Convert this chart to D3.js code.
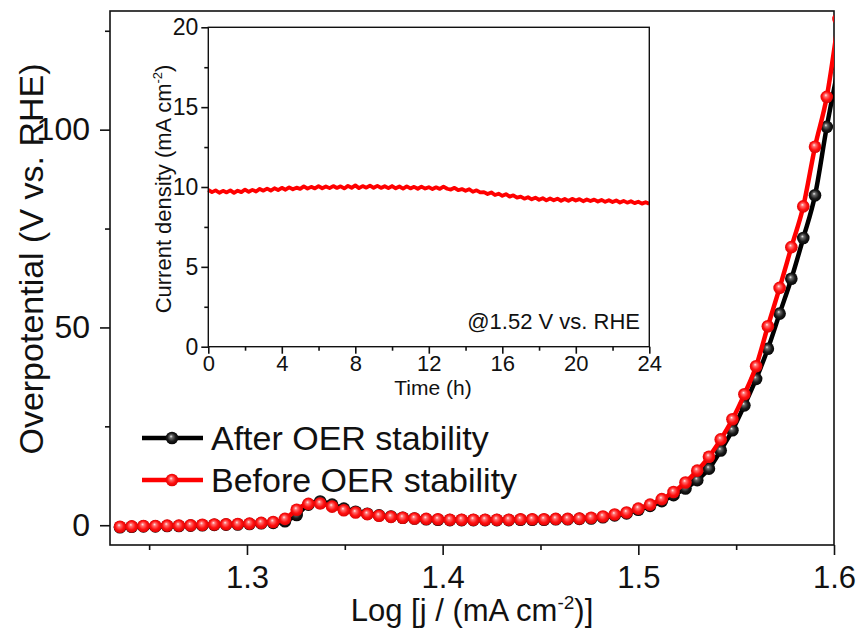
<!DOCTYPE html>
<html>
<head>
<meta charset="utf-8">
<script src="https://cdn.jsdelivr.net/npm/d3@7/dist/d3.min.js"></script>
<style>
    body { margin: 0; background: #fff; }
    svg text { font-family: "Liberation Sans", Arial, sans-serif; fill: #111; }
</style>
</head>
<body>
<svg id="chart" width="861" height="632"></svg>
<script>
// x values shared by both polarisation curves, log10 of current density
const logJ = [1.2351, 1.2411, 1.2471, 1.2532, 1.2592, 1.2652, 1.2712, 1.2772, 1.2833, 1.2893,
    1.2953, 1.3013, 1.3073, 1.3134, 1.3194, 1.3254, 1.3314, 1.3374, 1.3435, 1.3495,
    1.3555, 1.3615, 1.3675, 1.3736, 1.3796, 1.3856, 1.3916, 1.3976, 1.4037, 1.4097,
    1.4157, 1.4217, 1.4277, 1.4338, 1.4398, 1.4458, 1.4518, 1.4578, 1.4639, 1.4699,
    1.4759, 1.4819, 1.4879, 1.4940, 1.5000, 1.5060, 1.5120, 1.5180, 1.5241, 1.5301,
    1.5361, 1.5421, 1.5481, 1.5542, 1.5602, 1.5662, 1.5722, 1.5782, 1.5843, 1.5903,
    1.5963, 1.6023];

const afterOER = [-0.5, -0.4, -0.3, -0.3, -0.2, -0.2, -0.1, 0.0, 0.1, 0.15,
    0.2, 0.3, 0.5, 0.6, 1.0, 2.6, 5.2, 6.0, 5.2, 4.2,
    3.4, 2.9, 2.5, 2.2, 1.9, 1.7, 1.5, 1.4, 1.3, 1.3,
    1.3, 1.3, 1.3, 1.3, 1.4, 1.4, 1.4, 1.5, 1.5, 1.6,
    1.7, 2.0, 2.5, 3.0, 3.9, 4.9, 6.1, 7.6, 9.3, 11.4,
    14.3, 18.9, 24.0, 30.3, 37.0, 44.6, 53.5, 62.3, 72.6, 83.4,
    100.7, 116];

const beforeOER = [-0.4, -0.3, -0.2, -0.2, -0.1, -0.1, 0.0, 0.1, 0.2, 0.25,
    0.3, 0.4, 0.6, 0.8, 1.6, 3.9, 5.4, 5.5, 4.7, 3.8,
    3.2, 2.8, 2.4, 2.1, 1.9, 1.7, 1.6, 1.5, 1.4, 1.4,
    1.4, 1.4, 1.4, 1.4, 1.5, 1.5, 1.5, 1.6, 1.6, 1.7,
    1.9, 2.2, 2.7, 3.2, 4.2, 5.2, 6.6, 8.4, 10.8, 13.8,
    17.3, 21.7, 26.8, 33.1, 40.2, 50.3, 60.0, 70.3, 80.6, 95.7,
    108.3, 128];

const seriesNames = ["After OER stability", "Before OER stability"];

const xTicks = [1.3, 1.4, 1.5, 1.6];
const xMinorTicks = [1.25, 1.35, 1.45, 1.55];
const yTicks = [0, 50, 100];
const yMinorTicks = [25, 75, 125];

// inset: chronoamperometry at 1.52 V, one reading every 0.2 h
const stabilityStepH = 0.2;
const currentDensity = [
    9.82, 9.68, 9.79, 9.64, 9.76, 9.66, 9.79, 9.63, 9.77, 9.68,
    9.84, 9.70, 9.82, 9.72, 9.88, 9.77, 9.90, 9.78, 9.92, 9.81,
    9.95, 9.83, 9.98, 9.86, 9.96, 9.88, 10.04, 9.90, 10.01, 9.91,
    10.05, 9.92, 10.03, 9.93, 10.06, 9.94, 10.04, 9.91, 10.07, 9.95,
    10.10, 9.93, 10.06, 9.96, 10.09, 9.95, 10.07, 9.94, 10.05, 9.93,
    10.06, 9.92, 10.03, 9.90, 10.04, 9.91, 10.01, 9.89, 10.02, 9.90,
    9.99, 9.87, 9.98, 9.88, 10.02, 9.89, 9.84, 9.95, 9.80, 9.87,
    9.76, 9.86, 9.70, 9.79, 9.66, 9.68, 9.56, 9.66, 9.50, 9.58,
    9.45, 9.55, 9.40, 9.48, 9.34, 9.40, 9.27, 9.36, 9.23, 9.33,
    9.20, 9.30, 9.16, 9.28, 9.17, 9.27, 9.14, 9.25, 9.13, 9.26,
    9.15, 9.24, 9.11, 9.22, 9.12, 9.21, 9.09, 9.19, 9.07, 9.17,
    9.06, 9.16, 9.03, 9.13, 9.02, 9.11, 8.99, 9.08, 8.96, 9.05,
    8.95];

const insetXTicks = [0, 4, 8, 12, 16, 20, 24];
const insetXMinorTicks = [2, 6, 10, 14, 18, 22];
const insetYTicks = [0, 5, 10, 15, 20];
const insetYMinorTicks = [2.5, 7.5, 12.5, 17.5];


let svg = d3.select("#chart");

// shaded ball markers
let defs = svg.append("defs");
let balls = [
    {id: "ballBlack", stops: ["#f0f0f0", "#6a6a6a", "#1a1a1a", "#000000"]},
    {id: "ballRed", stops: ["#fff0f0", "#ff7070", "#ff1010", "#d40000"]}
];
balls.forEach(function (b) {
    let g = defs.append("radialGradient")
        .attr("id", b.id)
        .attr("cx", 0.5).attr("cy", 0.5).attr("r", 0.55)
        .attr("fx", 0.42).attr("fy", 0.36);
    [0, 0.22, 0.6, 1].forEach((o, i) => g.append("stop").attr("offset", o).attr("stop-color", b.stops[i]));
});

defs.append("clipPath").attr("id", "plotClip")
    .append("rect").attr("x", 110).attr("y", 11).attr("width", 724).attr("height", 534);

/* ---------- main plot ---------- */
let x = d3.scaleLinear().domain([1.23, 1.6]).range([110, 834]);
let y = d3.scaleLinear().domain([-5, 130]).range([545, 11]);

function drawAxis(axis, transform, fontSize, labels) {
    let g = svg.append("g")
        .attr("transform", transform)
        .call(axis);
    g.select(".domain").remove();
    g.selectAll(".tick line").attr("stroke", "#111").attr("stroke-width", 1.6);
    g.selectAll(".tick text")
        .attr("font-size", fontSize)
        .attr("font-family", null)
        .attr("fill", "#111");
    if (!labels) g.selectAll(".tick text").remove();
    return g;
}

drawAxis(d3.axisBottom(x).tickValues(xTicks).tickSize(10).tickPadding(11).tickFormat(d3.format(".1f")),
    "translate(0,545)", 31, true);
drawAxis(d3.axisBottom(x).tickValues(xMinorTicks).tickSize(5), "translate(0,545)", 31, false);
drawAxis(d3.axisLeft(y).tickValues(yTicks).tickSize(10).tickPadding(10), "translate(110,0)", 32, true);
drawAxis(d3.axisLeft(y).tickValues(yMinorTicks).tickSize(5), "translate(110,0)", 32, false);

svg.append("rect")
    .attr("x", 110).attr("y", 11).attr("width", 724).attr("height", 534)
    .attr("fill", "none").attr("stroke", "#111").attr("stroke-width", 1.6);

svg.append("text")
    .attr("x", 472).attr("y", 621)
    .attr("text-anchor", "middle")
    .attr("font-size", 31)
    .text("Log [j / (mA cm")
    .call(t => t.append("tspan").attr("dy", -12).attr("font-size", 19).text("-2"))
    .call(t => t.append("tspan").attr("dy", 12).text(")]"));

svg.append("text")
    .attr("transform", "translate(43,259) rotate(-90)")
    .attr("text-anchor", "middle")
    .attr("font-size", 34)
    .text("Overpotential (V vs. RHE)");

let curves = [
    {name: seriesNames[0], values: afterOER, color: "#000", ball: "ballBlack"},
    {name: seriesNames[1], values: beforeOER, color: "#ff0000", ball: "ballRed"}
];

let line = d3.line()
    .x(d => x(d[0]))
    .y(d => y(d[1]))
    .curve(d3.curveMonotoneX);

let plot = svg.append("g").attr("clip-path", "url(#plotClip)");

curves.forEach(function (c) {
    let pts = logJ.map((v, i) => [v, c.values[i]]);
    plot.append("path")
        .datum(pts)
        .attr("d", line)
        .attr("fill", "none")
        .attr("stroke", c.color)
        .attr("stroke-width", 4.5);
    plot.selectAll(null)
        .data(pts)
        .enter()
        .append("circle")
        .attr("cx", d => x(d[0]))
        .attr("cy", d => y(d[1]))
        .attr("r", 6.3)
        .attr("fill", "url(#" + c.ball + ")");
});

// legend
let legend = svg.append("g");
curves.forEach(function (c, i) {
    let ly = 438 + i * 42;
    legend.append("line")
        .attr("x1", 142).attr("x2", 203).attr("y1", ly).attr("y2", ly)
        .attr("stroke", c.color).attr("stroke-width", 4.5);
    legend.append("circle")
        .attr("cx", 172).attr("cy", ly).attr("r", 6.3)
        .attr("fill", "url(#" + c.ball + ")");
    legend.append("text")
        .attr("x", 211).attr("y", ly + 12)
        .attr("font-size", 34)
        .text(c.name);
});

/* ---------- inset ---------- */
let ix = d3.scaleLinear().domain([0, 24]).range([208.3, 649.3]);
let iy = d3.scaleLinear().domain([0, 20]).range([346.7, 27.3]);

svg.append("rect")
    .attr("x", 208.3).attr("y", 27.3).attr("width", 441).attr("height", 319.4)
    .attr("fill", "#fff");

drawAxis(d3.axisBottom(ix).tickValues(insetXTicks).tickSize(7).tickPadding(2),
    "translate(0,346.7)", 22, true);
drawAxis(d3.axisBottom(ix).tickValues(insetXMinorTicks).tickSize(4), "translate(0,346.7)", 22, false);
drawAxis(d3.axisLeft(iy).tickValues(insetYTicks).tickSize(7).tickPadding(3), "translate(208.3,0)", 23, true);
drawAxis(d3.axisLeft(iy).tickValues(insetYMinorTicks).tickSize(4), "translate(208.3,0)", 23, false);

svg.append("path")
    .datum(currentDensity)
    .attr("d", d3.line().x((d, i) => ix(i * stabilityStepH)).y(d => iy(d)))
    .attr("fill", "none")
    .attr("stroke", "#ff0000")
    .attr("stroke-width", 3.8)
    .attr("stroke-linejoin", "round");

svg.append("rect")
    .attr("x", 208.3).attr("y", 27.3).attr("width", 441).attr("height", 319.4)
    .attr("fill", "none").attr("stroke", "#111").attr("stroke-width", 1.4);

svg.append("text")
    .attr("x", 640).attr("y", 329)
    .attr("text-anchor", "end")
    .attr("font-size", 22)
    .text("@1.52 V vs. RHE");

svg.append("text")
    .attr("x", 433).attr("y", 395)
    .attr("text-anchor", "middle")
    .attr("font-size", 21)
    .text("Time (h)");

svg.append("text")
    .attr("transform", "translate(171,189) rotate(-90)")
    .attr("text-anchor", "middle")
    .attr("font-size", 22)
    .text("Current density (mA cm")
    .call(t => t.append("tspan").attr("dy", -9).attr("font-size", 13).text("-2"))
    .call(t => t.append("tspan").attr("dy", 9).text(")"));
</script>
</body>
</html>
